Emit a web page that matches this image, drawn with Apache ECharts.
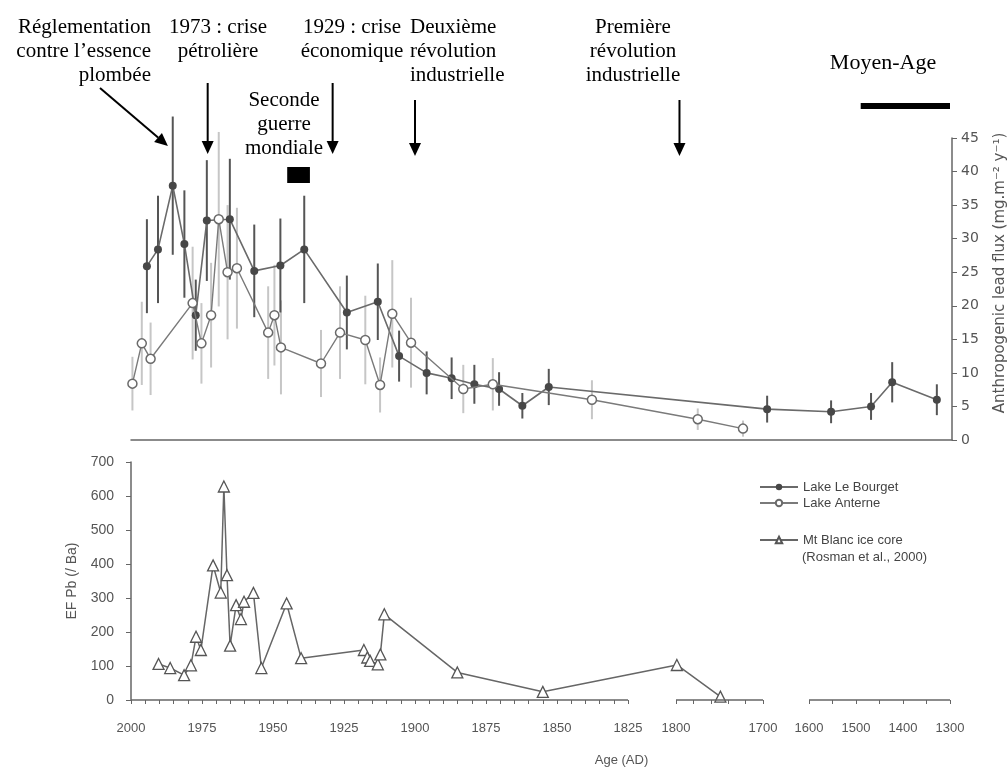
<!DOCTYPE html>
<html>
<head>
<meta charset="utf-8">
<script src="https://cdn.jsdelivr.net/npm/echarts@6/dist/echarts.min.js"></script>
<style>
  html, body { margin: 0; padding: 0; background: #fff; }
  #chart { width: 1007px; height: 767px; }
</style>
</head>
<body>
<div id="chart"></div>
<script>
// ---- Lake Le Bourget: anthropogenic lead flux (mg m-2 y-1) ----
const bourgetAge  = [1994.4, 1990.5, 1985.3, 1981.2, 1977.2, 1973.3, 1965.2, 1956.6, 1947.4, 1939.0,
                     1924.0, 1913.1, 1905.6, 1895.9, 1887.1, 1879.1, 1870.4, 1862.2, 1852.9,
                     1691, 1553, 1468, 1423, 1328];
const bourgetFlux = [25.9, 28.4, 37.9, 29.2, 18.6, 32.7, 32.9, 25.2, 26.0, 28.4,
                     19.0, 20.6, 12.5, 10.0, 9.2, 8.3, 7.6, 5.1, 7.9,
                     4.6, 4.2, 5.0, 8.6, 6.0];
const bourgetErr  = [7, 8, 10.3, 8, 5.3, 9, 9, 6.9, 7, 8,
                     5.5, 5.7, 3.8, 3.2, 3.1, 2.9, 2.5, 1.9, 2.7,
                     2, 1.7, 2, 3, 2.3];

// ---- Lake Anterne ----
const anterneAge  = [1999.5, 1996.2, 1993.1, 1978.3, 1975.2, 1971.8, 1969.1, 1966.0, 1962.7, 1951.7,
                     1949.5, 1947.2, 1933.1, 1926.4, 1917.5, 1912.3, 1908.0, 1901.4, 1883.0, 1872.6,
                     1837.7, 1775, 1723];
const anterneFlux = [8.4, 14.4, 12.1, 20.4, 14.4, 18.6, 32.9, 25.0, 25.6, 16.0,
                     18.6, 13.8, 11.4, 16.0, 14.9, 8.2, 18.8, 14.5, 7.6, 8.3,
                     6.0, 3.1, 1.7];
const anterneErr  = [4, 6.2, 5.4, 8.4, 6, 7.8, 13, 10, 9, 6.9,
                     7.5, 7, 5, 6.9, 6.6, 4.1, 8, 6.7, 3.6, 3.9,
                     2.9, 1.6, 1.2];

// ---- Mt Blanc ice core, EF Pb (/ Ba) (Rosman et al., 2000) ----
const montBlancAge = [1990.3, 1986.2, 1981.3, 1978.9, 1977.1, 1975.4, 1971.1, 1968.4, 1967.3, 1966.2,
                      1965.1, 1963.0, 1961.3, 1960.2, 1956.9, 1954.1, 1945.2, 1940.1, 1918.0, 1916.8,
                      1915.8, 1913.1, 1912.2, 1910.8, 1885.1, 1855.0, 1799, 1749];
const montBlancEF  = [106, 94, 73, 102, 186, 147, 396, 316, 628, 367,
                      160, 279, 238, 289, 315, 94, 284, 123, 147, 125,
                      115, 105, 134, 252, 81, 24, 103, 10];

// ---- Age axis: tick and label years ----
const tickYears = [];
for (let y = 2000; y >= 1825; y -= 5) tickYears.push(y);
for (let y = 1800; y >= 1700; y -= 20) tickYears.push(y);
for (let y = 1600; y >= 1300; y -= 50) tickYears.push(y);
const labelYears = [2000, 1975, 1950, 1925, 1900, 1875, 1850, 1825, 1800, 1700, 1600, 1500, 1400, 1300];
// drawn pieces of the broken age axis
const axisPieces = [[2000, 1825], [1800, 1700], [1600, 1300]];

// Broken age scale: piecewise-linear, each piece with its own density.
// [age AD, distance along the axis]
const AGE_SCALE = [[2000, 0], [1825, 497], [1800, 545], [1700, 632], [1600, 678], [1300, 819]];
const AXIS_LENGTH = 821;

function ageToAxis(age) {
  for (let i = 0; i < AGE_SCALE.length - 1; i++) {
    const [a0, p0] = AGE_SCALE[i], [a1, p1] = AGE_SCALE[i + 1];
    if (age <= a0 && age >= a1) return p0 + (a0 - age) / (a0 - a1) * (p1 - p0);
  }
  return age > AGE_SCALE[0][0] ? 0 : AXIS_LENGTH;
}
function axisToAge(p) {
  for (let i = 0; i < AGE_SCALE.length - 1; i++) {
    const [a0, p0] = AGE_SCALE[i], [a1, p1] = AGE_SCALE[i + 1];
    if (p >= p0 && p <= p1) return a0 - (p - p0) / (p1 - p0) * (a0 - a1);
  }
  return AGE_SCALE[AGE_SCALE.length - 1][0];
}

const pairs = (ages, vals) => ages.map((a, i) => [ageToAxis(a), vals[i]]);
const errTriples = (ages, vals, errs) => ages.map((a, i) => [ageToAxis(a), vals[i] - errs[i], vals[i] + errs[i]]);

function errorBarSeries(data, color, width) {
  return {
    type: 'custom', xAxisIndex: 0, yAxisIndex: 0, z: 1, silent: true,
    data: data,
    renderItem: function (params, api) {
      const lo = api.coord([api.value(0), Math.max(0, api.value(1))]);
      const hi = api.coord([api.value(0), api.value(2)]);
      return { type: 'line', shape: { x1: lo[0], y1: lo[1], x2: hi[0], y2: hi[1] },
               style: { stroke: color, lineWidth: width } };
    }
  };
}

const SANS = 'Liberation Sans, Arial, sans-serif';
const WIDE_SANS = 'DejaVu Sans, Verdana, sans-serif';
const SERIF = 'Liberation Serif, Times New Roman, serif';
const AXIS_GREY = '#666';
const TEXT_GREY = '#555';

const chart = echarts.init(document.getElementById('chart'), null, { renderer: 'canvas' });

const option = {
  backgroundColor: '#fff',
  animation: false,
  textStyle: { fontFamily: SANS },
  grid: [
    { left: 131, width: AXIS_LENGTH, top: 138, height: 302, outerBoundsMode: 'none', containLabel: false },
    { left: 131, width: AXIS_LENGTH, top: 462, height: 238, outerBoundsMode: 'none', containLabel: false }
  ],
  xAxis: [
    { gridIndex: 0, type: 'value', min: 0, max: AXIS_LENGTH,
      axisLine: { show: true, lineStyle: { color: AXIS_GREY, width: 1.5 } },
      axisTick: { show: false }, axisLabel: { show: false }, splitLine: { show: false } },
    { gridIndex: 1, type: 'value', min: 0, max: AXIS_LENGTH,
      axisLine: { show: false },
      axisTick: { show: true, length: 4, customValues: tickYears.map(ageToAxis),
                  lineStyle: { color: AXIS_GREY, width: 1 } },
      axisLabel: { show: true, customValues: labelYears.map(ageToAxis), margin: 22,
                   color: TEXT_GREY, fontSize: 13, fontFamily: SANS,
                   formatter: v => String(Math.round(axisToAge(v))) },
      splitLine: { show: false },
      name: 'Age (AD)', nameLocation: 'middle', nameGap: 54,
      nameTextStyle: { color: TEXT_GREY, fontSize: 13, fontFamily: SANS, padding: [0, 0, 0, 160] } }
  ],
  yAxis: [
    { gridIndex: 0, type: 'value', position: 'right', min: 0, max: 45, interval: 5,
      axisLine: { show: true, onZero: false, lineStyle: { color: AXIS_GREY, width: 1.5 } },
      axisTick: { show: true, length: 5, lineStyle: { color: AXIS_GREY } },
      axisLabel: { color: TEXT_GREY, fontSize: 14, margin: 9, fontFamily: WIDE_SANS },
      splitLine: { show: false },
      name: 'Anthropogenic lead flux (mg.m\u207B\u00B2 y\u207B\u00B9)',
      nameLocation: 'middle', nameRotate: 90, nameGap: 41,
      nameTextStyle: { color: TEXT_GREY, fontSize: 15, fontFamily: WIDE_SANS, padding: [0, 0, 0, 32] } },
    { gridIndex: 1, type: 'value', min: 0, max: 700, interval: 100,
      axisLine: { show: true, onZero: false, lineStyle: { color: AXIS_GREY, width: 1.5 } },
      axisTick: { show: true, length: 5, lineStyle: { color: AXIS_GREY } },
      axisLabel: { color: TEXT_GREY, fontSize: 14, margin: 17, fontFamily: SANS },
      splitLine: { show: false },
      name: 'EF Pb (/ Ba)', nameLocation: 'middle', nameRotate: 90, nameGap: 52,
      nameTextStyle: { color: TEXT_GREY, fontSize: 14, fontFamily: SANS } }
  ],
  legend: [
    { data: ['Lake Le Bourget', 'Lake Anterne'], orient: 'vertical', left: 759, top: 480, padding: 0,
      itemWidth: 38, itemHeight: 8, itemGap: 2, selectedMode: false,
      textStyle: { color: '#444', fontSize: 13, fontFamily: SANS, lineHeight: 14 } },
    { data: ['Mt Blanc ice core'], orient: 'vertical', left: 759, top: 533, padding: 0,
      itemWidth: 38, itemHeight: 8, selectedMode: false,
      textStyle: { color: '#444', fontSize: 13, fontFamily: SANS, lineHeight: 14 } }
  ],
  series: [
    errorBarSeries(errTriples(anterneAge, anterneFlux, anterneErr), '#c6c6c6', 2),
    errorBarSeries(errTriples(bourgetAge, bourgetFlux, bourgetErr), '#555', 2),
    { name: 'Lake Le Bourget', type: 'line', xAxisIndex: 0, yAxisIndex: 0, z: 3,
      data: pairs(bourgetAge, bourgetFlux),
      symbol: 'circle', symbolSize: 8,
      itemStyle: { color: '#474747' },
      lineStyle: { color: '#6a6a6a', width: 1.6 } },
    { name: 'Lake Anterne', type: 'line', xAxisIndex: 0, yAxisIndex: 0, z: 4,
      data: pairs(anterneAge, anterneFlux),
      symbol: 'circle', symbolSize: 9, showAllSymbol: true,
      itemStyle: { color: '#fff', borderColor: '#6a6a6a', borderWidth: 1.5 },
      lineStyle: { color: '#7a7a7a', width: 1.4 } },
    { name: 'Mt Blanc ice core', type: 'line', xAxisIndex: 1, yAxisIndex: 1, z: 3,
      data: pairs(montBlancAge, montBlancEF),
      symbol: 'triangle', symbolSize: 11, showAllSymbol: true,
      itemStyle: { color: '#fff', borderColor: '#555', borderWidth: 1.3 },
      lineStyle: { color: '#666', width: 1.5 },
      markLine: {
        silent: true, symbol: 'none', label: { show: false },
        lineStyle: { color: AXIS_GREY, width: 1.5, type: 'solid' },
        data: axisPieces.map(([a, b]) => [{ coord: [ageToAxis(a), 0] }, { coord: [ageToAxis(b), 0] }])
      } }
  ]
};

chart.setOption(option);

// ---- Historical annotations above the flux panel ----
const events = [
  { age: 1987, from: [100, 88], tipY: 146 },   // leaded petrol regulation
  { age: 1973, fromY: 83, tipY: 154 },          // oil crisis
  { age: 1929, fromY: 83, tipY: 154 },          // economic crisis
  { age: 1900, fromY: 100, tipY: 156 },         // second industrial revolution
  { age: 1796, fromY: 100, tipY: 156 }          // first industrial revolution
];
const warYears = [1945, 1937];
const middleAgesYears = [1490, 1300];

const ageX = age => chart.convertToPixel({ xAxisIndex: 0 }, ageToAxis(age));

function arrow(x1, y1, x2, y2) {
  const len = Math.hypot(x2 - x1, y2 - y1);
  const dx = (x2 - x1) / len, dy = (y2 - y1) / len;
  const head = 13, half = 6;
  const bx = x2 - dx * head, by = y2 - dy * head;
  return [
    { type: 'line', shape: { x1: x1, y1: y1, x2: bx, y2: by }, style: { stroke: '#000', lineWidth: 2 } },
    { type: 'polygon', shape: { points: [[x2, y2], [bx - dy * half, by + dx * half], [bx + dy * half, by - dx * half]] },
      style: { fill: '#000' } }
  ];
}

const serif = { fill: '#000', fontFamily: SERIF, fontSize: 21, lineHeight: 24 };
const texts = [
  { x: 151, y: 15, align: 'right', text: 'Réglementation\ncontre l’essence\nplombée' },
  { x: 218, y: 15, align: 'center', text: '1973 : crise\npétrolière' },
  { x: 284, y: 88, align: 'center', text: 'Seconde\nguerre\nmondiale' },
  { x: 352, y: 15, align: 'center', text: '1929 : crise\néconomique' },
  { x: 410, y: 15, align: 'left', text: 'Deuxième\nrévolution\nindustrielle' },
  { x: 633, y: 15, align: 'center', text: 'Première\nrévolution\nindustrielle' },
  { x: 883, y: 51, align: 'center', text: 'Moyen-Age', fontSize: 22 }
];

const graphics = [];
texts.forEach(t => graphics.push({ type: 'text', x: t.x, y: t.y,
  style: Object.assign({ text: t.text, align: t.align, verticalAlign: 'top' }, serif,
                       t.fontSize ? { fontSize: t.fontSize } : {}) }));
events.forEach(e => {
  const x = ageX(e.age);
  const from = e.from || [x, e.fromY];
  graphics.push(...arrow(from[0], from[1], x, e.tipY));
});
const wx0 = ageX(warYears[0]), wx1 = ageX(warYears[1]);
graphics.push({ type: 'rect', shape: { x: wx0, y: 167, width: wx1 - wx0, height: 16 }, style: { fill: '#000' } });
const mx0 = ageX(middleAgesYears[0]), mx1 = ageX(middleAgesYears[1]);
graphics.push({ type: 'rect', shape: { x: mx0, y: 103, width: mx1 - mx0, height: 6 }, style: { fill: '#000' } });
graphics.push({ type: 'text', x: 802, y: 557,
  style: { text: '(Rosman et al., 2000)', fill: '#444', fontFamily: SANS, fontSize: 13, verticalAlign: 'middle' } });

chart.setOption({ graphic: graphics });
</script>
</body>
</html>
